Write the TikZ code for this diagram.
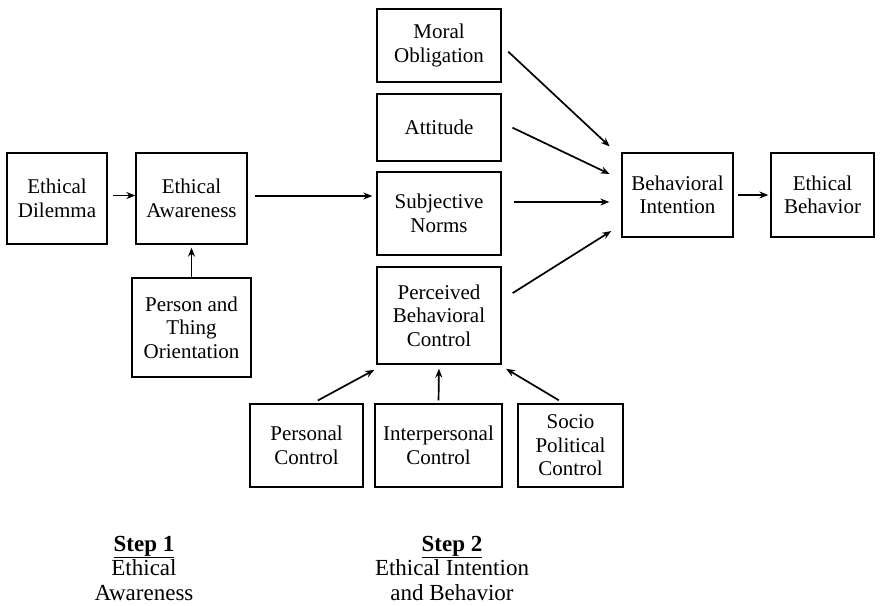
\documentclass[tikz,border=0pt]{standalone}
\usepackage{fontspec}
\setmainfont{Liberation Serif}
\usetikzlibrary{arrows.meta}
\begin{document}
\begin{tikzpicture}[x=1pt, y=-1pt, >={Stealth[length=9pt, width=7pt]}, line width=1.3pt,
    box/.style={draw, align=center, inner sep=2pt, font=\fontsize{21}{23.5}\selectfont},
    link/.style={->, line width=1.7pt},
    step label/.style={align=center, font=\fontsize{23}{24.5}\selectfont}]
  \useasboundingbox (0,0) rectangle (880,605);
  % step 1
  \node[box, minimum width=100pt, minimum height=91pt] (dilemma) at (57,198.5) {Ethical\\Dilemma};
  \node[box, minimum width=111pt, minimum height=91pt] (awareness) at (191.5,198.5) {Ethical\\Awareness};
  \node[box, minimum width=119pt, minimum height=99pt] (orient) at (191.5,327.5) {Person and\\Thing\\Orientation};
  % step 2
  \node[box, minimum width=124pt, minimum height=73pt] (moral) at (439,45.5) {Moral\\Obligation};
  \node[box, minimum width=124pt, minimum height=67pt] (attitude) at (439,127.5) {Attitude};
  \node[box, minimum width=124pt, minimum height=83pt] (norms) at (439,213.5) {Subjective\\Norms};
  \node[box, minimum width=124pt, minimum height=97pt] (pbc) at (439,315.5) {Perceived\\Behavioral\\Control};
  \node[box, minimum width=111pt, minimum height=84pt] (intention) at (677.5,195) {Behavioral\\Intention};
  \node[box, minimum width=103pt, minimum height=84pt] (behavior) at (822.5,195) {Ethical\\Behavior};
  \node[box, minimum width=113pt, minimum height=83pt] (personal) at (306.5,445.5) {Personal\\Control};
  \node[box, minimum width=127pt, minimum height=83pt] (interpersonal) at (438.5,445.5) {Interpersonal\\Control};
  \node[box, minimum width=105pt, minimum height=83pt] (socio) at (570.5,445.5) {Socio\\Political\\Control};

  \draw[link, shorten <=5pt] ([yshift=3pt]dilemma.east) -- ([yshift=3pt]awareness.west);
  \draw[link, shorten >=3pt] (orient.north) -- (awareness.south);
  \draw[link, shorten <=7pt, shorten >=4pt] ([yshift=2.5pt]awareness.east) -- ([yshift=17.5pt]norms.west);
  \draw[link, shorten <=9pt, shorten >=16pt] (moral.east) -- ([yshift=-5pt]intention.north west);
  \draw[link, shorten <=12pt, shorten >=13pt] ([yshift=5pt]attitude.east) -- ([yshift=15.4pt]intention.west);
  \draw[link, shorten <=12pt, shorten >=12pt] ([yshift=11.5pt]norms.east) -- ([yshift=-7pt]intention.west);
  \draw[link, shorten <=13pt, shorten >=12pt] ([yshift=15.5pt]pbc.east) -- ([yshift=13pt]intention.south west);
  \draw[link, shorten <=4pt, shorten >=2pt] (intention.east) -- (behavior.west);
  \draw[link, shorten <=6pt, shorten >=11pt] ([xshift=6pt]personal.north) -- ([xshift=7.6pt]pbc.south west);
  \draw[link, shorten <=3pt, shorten >=4pt] (interpersonal.north) -- (pbc.south);
  \draw[link, shorten <=6pt, shorten >=8pt] ([xshift=-6.5pt]socio.north) -- ([xshift=-2.5pt]pbc.south east);

  \node[step label] (step1) at (144,568) {\underline{\textbf{Step 1}}\\Ethical\\Awareness};
  \node[step label] (step2) at (452,568) {\underline{\textbf{Step 2}}\\Ethical Intention\\and Behavior};
\end{tikzpicture}
\end{document}
